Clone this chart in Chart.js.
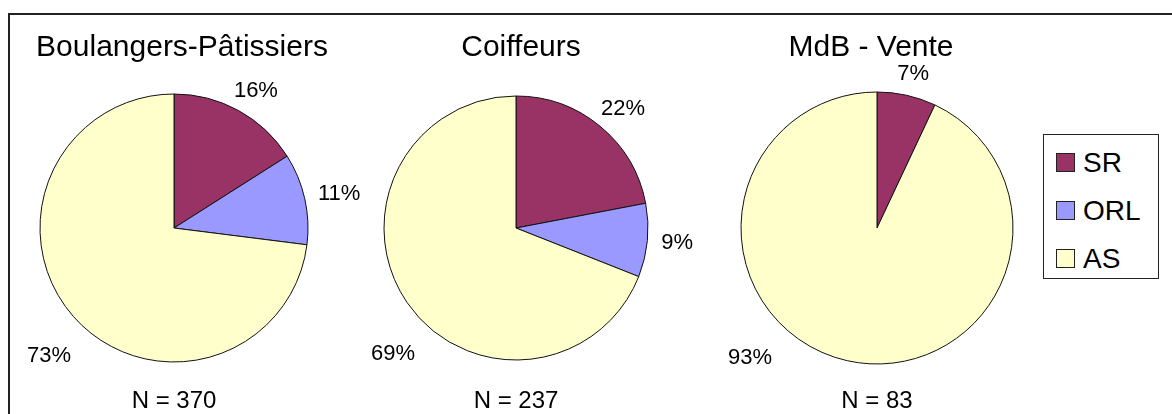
<!DOCTYPE html>
<html>
<head>
<meta charset="utf-8">
<script src="https://cdn.jsdelivr.net/npm/chart.js@4"></script>
<style>
  body { margin: 0; width: 1172px; height: 414px; overflow: hidden; background: #fff; position: relative; font-family: "Liberation Sans", Arial, sans-serif; }
  #frame { position: absolute; left: 8px; top: 13px; width: 1200px; height: 500px; border: 2px solid #222; box-sizing: border-box; }
  canvas { position: absolute; top: 0; }
  .title { position: absolute; top: 29px; font-size: 30px; white-space: nowrap; transform: translateX(-50%); color: #000; }
  .count { position: absolute; top: 386px; font-size: 24px; white-space: nowrap; transform: translateX(-50%); color: #000; }
  #legend { position: absolute; left: 1043px; top: 134px; width: 116px; height: 145px; border: 1.5px solid #222; box-sizing: border-box; background: #fff; }
  .item { position: absolute; left: 12px; font-size: 28px; line-height: 28px; color: #000; }
  .item span { display: inline-block; width: 17px; height: 17px; border: 1.5px solid #222; margin-right: 8px; vertical-align: 0px; }
</style>
</head>
<body>
<div id="frame"></div>
<div id="legend"></div>
<script>
const categories = ['SR', 'ORL', 'AS'];
const groups = ['Boulangers-Pâtissiers', 'Coiffeurs', 'MdB - Vente'];
const counts = ['N = 370', 'N = 237', 'N = 83'];
const boulangers = [16, 11, 73];
const coiffeurs = [22, 9, 69];
const mdbVente = [7, 0, 93];

const colors = ['#993366', '#9999FF', '#FFFFCC'];
const pieCenters = [174, 516, 877];
const pieRadius = [134, 132, 136];
const titleCenters = [182, 521, 871];
const allValues = [boulangers, coiffeurs, mdbVente];

// percentage labels around each pie (excel-ish placement)
const pctLabels = {
    id: 'pctLabels',
    afterDatasetsDraw(chart) {
        const {ctx} = chart;
        const meta = chart.getDatasetMeta(0);
        const data = chart.data.datasets[0].data;
        const total = data.reduce((a, b) => a + b, 0);
        ctx.save();
        ctx.font = '22px "Liberation Sans", Arial, sans-serif';
        ctx.fillStyle = '#000';
        ctx.textAlign = 'center';
        ctx.textBaseline = 'middle';
        const h = 16;
        meta.data.forEach((arc, i) => {
            if (!data[i]) return;
            const {x, y, startAngle, endAngle, outerRadius} = arc.getProps(['x', 'y', 'startAngle', 'endAngle', 'outerRadius'], true);
            const txt = data[i] + '%';
            const w = ctx.measureText(txt).width;
            let lx, ly;
            if (data[i] / total > 0.5) {
                // big slice: label sits in the lower left corner
                lx = x - outerRadius + 9;
                ly = y + outerRadius - 6;
            } else {
                const mid = (startAngle + endAngle) / 2;
                const d = outerRadius + 14;
                lx = x + Math.cos(mid) * d + Math.cos(mid) * w / 2;
                ly = y + Math.sin(mid) * d + Math.sin(mid) * h / 2;
            }
            ctx.fillText(txt, lx, ly);
        });
        ctx.restore();
    }
};

groups.forEach((name, g) => {
    const w = 420;
    const c = document.createElement('canvas');
    c.width = w;
    c.height = 414;
    c.style.left = (pieCenters[g] - w / 2) + 'px';
    document.body.appendChild(c);

    new Chart(c, {
        type: 'pie',
        data: {
            labels: categories,
            datasets: [{
                data: allValues[g],
                backgroundColor: colors,
                borderColor: '#111',
                borderWidth: 1
            }]
        },
        options: {
            responsive: false,
            animation: false,
            radius: pieRadius[g],
            layout: { padding: { top: 60, bottom: 18, left: 0, right: 0 } },
            plugins: {
                legend: { display: false },
                tooltip: { enabled: false }
            }
        },
        plugins: [pctLabels]
    });

    const t = document.createElement('div');
    t.className = 'title';
    t.style.left = titleCenters[g] + 'px';
    t.textContent = name;
    document.body.appendChild(t);

    const n = document.createElement('div');
    n.className = 'count';
    n.style.left = pieCenters[g] + 'px';
    n.textContent = counts[g];
    document.body.appendChild(n);
});

const legend = document.getElementById('legend');
categories.forEach((cat, i) => {
    const d = document.createElement('div');
    d.className = 'item';
    d.style.top = (14 + i * 48) + 'px';
    d.innerHTML = '<span style="background:' + colors[i] + '"></span>' + cat;
    legend.appendChild(d);
});
</script>
</body>
</html>
